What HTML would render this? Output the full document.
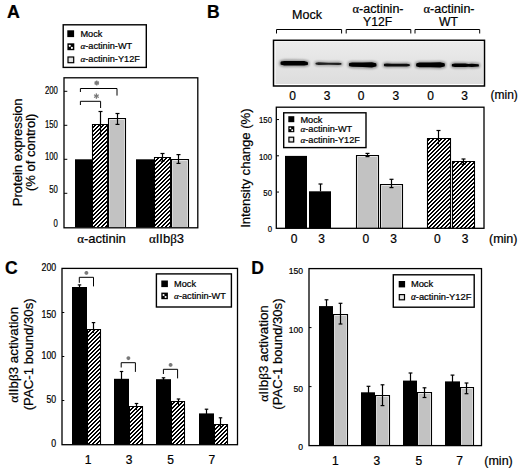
<!DOCTYPE html>
<html><head><meta charset="utf-8"><style>
html,body{margin:0;padding:0;background:#fff;width:520px;height:472px;overflow:hidden}
svg{display:block}
text{font-family:"Liberation Sans", sans-serif;fill:#000;stroke:#000;stroke-width:0.22px}
</style></head><body>
<svg width="520" height="472" viewBox="0 0 520 472">
<defs>
<pattern id="hatch" patternUnits="userSpaceOnUse" x="0" y="0" width="4" height="4"><rect x="0" y="0" width="4" height="4" fill="#fff"/><rect x="3" y="0" width="1" height="1" fill="#000"/><rect x="0" y="0" width="1" height="1" fill="#000"/><rect x="2" y="1" width="1" height="1" fill="#000"/><rect x="3" y="1" width="1" height="1" fill="#000"/><rect x="1" y="2" width="1" height="1" fill="#000"/><rect x="2" y="2" width="1" height="1" fill="#000"/><rect x="0" y="3" width="1" height="1" fill="#000"/><rect x="1" y="3" width="1" height="1" fill="#000"/></pattern>
<linearGradient id="blotg" x1="0" y1="0" x2="0" y2="1"><stop offset="0" stop-color="#ececec"/><stop offset="0.5" stop-color="#e4e4e4"/><stop offset="1" stop-color="#dddddd"/></linearGradient>
<filter id="blur" x="-20%" y="-100%" width="140%" height="300%"><feGaussianBlur stdDeviation="0.75"/></filter>
<filter id="blur2" x="-20%" y="-100%" width="140%" height="300%"><feGaussianBlur stdDeviation="1.3"/></filter>
</defs>
<rect width="520" height="472" fill="#fff"/>
<text x="7.10" y="18.10" font-size="17.8" text-anchor="start" font-weight="bold" >A</text>
<rect x="63.20" y="24.80" width="83.10" height="42.60" fill="#fff" stroke="#000" stroke-width="1.4"/>
<rect x="67.30" y="30.30" width="6.80" height="6.80" fill="#000"/>
<text x="80.40" y="37.00" font-size="9.2" text-anchor="start" font-weight="normal" >Mock</text>
<rect x="67.40" y="43.30" width="6.90" height="6.90" fill="#000"/>
<circle cx="69.75" cy="45.78" r="1.10" fill="#fff"/>
<circle cx="71.89" cy="47.92" r="1.10" fill="#fff"/>
<text x="80.40" y="49.40" font-size="9.2" text-anchor="start" font-weight="normal" ><tspan font-family="Liberation Serif" font-style="italic">α</tspan>-actinin-WT</text>
<rect x="68.00" y="57.00" width="5.70" height="5.70" fill="#dadada" stroke="#000" stroke-width="1.2"/>
<line x1="70.85" y1="57.90" x2="70.85" y2="61.80" stroke="#f4f4f4" stroke-width="0.6"/>
<line x1="68.90" y1="59.85" x2="72.80" y2="59.85" stroke="#f4f4f4" stroke-width="0.6"/>
<text x="80.40" y="62.40" font-size="9.2" text-anchor="start" font-weight="normal" ><tspan font-family="Liberation Serif" font-style="italic">α</tspan>-actinin-Y12F</text>
<line x1="64.00" y1="91.30" x2="67.30" y2="91.30" stroke="#000" stroke-width="1.0"/>
<text transform="translate(57.80,93.70) scale(0.75,1)" x="0" y="0" font-size="10.3" text-anchor="end">200</text>
<line x1="64.00" y1="125.30" x2="67.30" y2="125.30" stroke="#000" stroke-width="1.0"/>
<text transform="translate(57.80,127.50) scale(0.75,1)" x="0" y="0" font-size="10.3" text-anchor="end">150</text>
<line x1="64.00" y1="159.30" x2="67.30" y2="159.30" stroke="#000" stroke-width="1.0"/>
<text transform="translate(57.80,159.60) scale(0.75,1)" x="0" y="0" font-size="10.3" text-anchor="end">100</text>
<line x1="64.00" y1="193.30" x2="67.30" y2="193.30" stroke="#000" stroke-width="1.0"/>
<text transform="translate(57.80,192.90) scale(0.75,1)" x="0" y="0" font-size="10.3" text-anchor="end">50</text>
<text transform="translate(57.80,226.50) scale(0.75,1)" x="0" y="0" font-size="10.3" text-anchor="end">0</text>
<rect x="75.00" y="159.30" width="17.00" height="68.00" fill="#000"/>
<rect x="92.00" y="124.00" width="16.00" height="103.30" fill="url(#hatch)"/>
<path d="M92.5,227.3 V124.5 H107.5 V227.3" fill="none" stroke="#000" stroke-width="1.1"/>
<rect x="108.00" y="118.00" width="18.00" height="109.30" fill="#c2c2c2"/>
<path d="M109.5,227.3 V119.5 H124.5 V227.3" fill="none" stroke="#e4e4e4" stroke-width="1"/>
<path d="M108.5,227.3 V118.5 H125.5 V227.3" fill="none" stroke="#000" stroke-width="1.1"/>
<rect x="136.00" y="159.30" width="18.00" height="68.00" fill="#000"/>
<rect x="154.00" y="157.00" width="17.00" height="70.30" fill="url(#hatch)"/>
<path d="M154.5,227.3 V157.5 H170.5 V227.3" fill="none" stroke="#000" stroke-width="1.1"/>
<rect x="171.00" y="159.00" width="18.00" height="68.30" fill="#c2c2c2"/>
<path d="M172.5,227.3 V160.5 H187.5 V227.3" fill="none" stroke="#e4e4e4" stroke-width="1"/>
<path d="M171.5,227.3 V159.5 H188.5 V227.3" fill="none" stroke="#000" stroke-width="1.1"/>
<line x1="100.50" y1="111.50" x2="100.50" y2="136.50" stroke="#000" stroke-width="1.2"/>
<line x1="98.50" y1="111.50" x2="102.50" y2="111.50" stroke="#000" stroke-width="1.2"/>
<line x1="117.50" y1="113.50" x2="117.50" y2="124.40" stroke="#000" stroke-width="1.2"/>
<line x1="115.50" y1="113.50" x2="119.50" y2="113.50" stroke="#000" stroke-width="1.2"/>
<line x1="115.50" y1="124.40" x2="119.50" y2="124.40" stroke="#000" stroke-width="1.2"/>
<line x1="162.50" y1="153.50" x2="162.50" y2="161.20" stroke="#000" stroke-width="1.2"/>
<line x1="160.50" y1="153.50" x2="164.50" y2="153.50" stroke="#000" stroke-width="1.2"/>
<line x1="160.50" y1="161.20" x2="164.50" y2="161.20" stroke="#000" stroke-width="1.2"/>
<line x1="178.50" y1="154.60" x2="178.50" y2="163.40" stroke="#000" stroke-width="1.2"/>
<line x1="176.50" y1="154.60" x2="180.50" y2="154.60" stroke="#000" stroke-width="1.2"/>
<line x1="176.50" y1="163.40" x2="180.50" y2="163.40" stroke="#000" stroke-width="1.2"/>
<polyline points="80.40,92.00 80.40,88.50 117.00,88.50 117.00,95.60" fill="none" stroke="#000" stroke-width="1.0"/>
<polyline points="80.40,105.00 80.40,101.30 100.60,101.30 100.60,108.00" fill="none" stroke="#000" stroke-width="1.0"/>
<line x1="96.70" y1="80.60" x2="96.70" y2="85.40" stroke="#7a7a7a" stroke-width="1.6"/>
<line x1="98.78" y1="81.80" x2="94.62" y2="84.20" stroke="#7a7a7a" stroke-width="1.6"/>
<line x1="98.78" y1="84.20" x2="94.62" y2="81.80" stroke="#7a7a7a" stroke-width="1.6"/>
<line x1="96.40" y1="93.40" x2="96.40" y2="98.80" stroke="#7a7a7a" stroke-width="1.3"/>
<line x1="98.74" y1="94.75" x2="94.06" y2="97.45" stroke="#7a7a7a" stroke-width="1.3"/>
<line x1="98.74" y1="97.45" x2="94.06" y2="94.75" stroke="#7a7a7a" stroke-width="1.3"/>
<text x="101.50" y="242.50" font-size="13" text-anchor="middle" font-weight="normal" ><tspan font-family="Liberation Serif">α</tspan>-actinin</text>
<text x="166.50" y="242.50" font-size="13" text-anchor="middle" font-weight="normal" ><tspan font-family="Liberation Serif">α</tspan>IIb<tspan font-family="Liberation Serif">β</tspan>3</text>
<text transform="translate(22.00,152.30) rotate(-90)" x="0" y="0" font-size="13" text-anchor="middle" >Protein expression</text>
<text transform="translate(35.30,152.30) rotate(-90)" x="0" y="0" font-size="13" text-anchor="middle" >(% of control)</text>
<rect x="64.00" y="77.80" width="133.80" height="150.00" fill="none" stroke="#000" stroke-width="1.3"/>
<text x="207.00" y="18.10" font-size="17.5" text-anchor="start" font-weight="bold" >B</text>
<text x="307.00" y="18.50" font-size="12.5" text-anchor="middle" font-weight="normal" >Mock</text>
<text x="378.00" y="12.70" font-size="12.5" text-anchor="middle" font-weight="normal" ><tspan font-family="Liberation Serif">α</tspan>-actinin-</text>
<text x="377.60" y="25.90" font-size="12.2" text-anchor="middle" font-weight="normal" >Y12F</text>
<text x="449.00" y="12.70" font-size="12.5" text-anchor="middle" font-weight="normal" ><tspan font-family="Liberation Serif">α</tspan>-actinin-</text>
<text x="448.40" y="25.90" font-size="12.2" text-anchor="middle" font-weight="normal" >WT</text>
<polyline points="276.50,33.50 276.50,29.50 341.60,29.50 341.60,33.50" fill="none" stroke="#000" stroke-width="1.0"/>
<polyline points="346.20,33.50 346.20,29.50 410.80,29.50 410.80,33.50" fill="none" stroke="#000" stroke-width="1.0"/>
<polyline points="415.00,33.50 415.00,29.50 479.70,29.50 479.70,33.50" fill="none" stroke="#000" stroke-width="1.0"/>
<rect x="273.50" y="40.30" width="211.00" height="45.70" fill="#fff" stroke="#000" stroke-width="1.5"/>
<rect x="275.50" y="42.00" width="207.50" height="42.00" fill="url(#blotg)"/>
<path d="M279.10,63.20 Q279.10,60.20 281.10,60.20 L284.26,59.50 L294.25,59.60 L304.24,59.70 L307.40,60.50 Q309.40,60.50 309.40,63.40 Q309.40,66.30 307.40,66.30 L304.24,66.90 L294.25,66.80 L284.26,66.90 L281.10,66.20 Q279.10,66.20 279.10,63.20 Z" fill="#000" opacity="0.35" filter="url(#blur2)"/>
<path d="M280.50,63.20 Q280.50,61.60 281.10,61.60 L284.26,60.90 L294.25,61.00 L304.24,61.10 L307.40,61.90 Q308.00,61.90 308.00,63.40 Q308.00,64.90 307.40,64.90 L304.24,65.50 L294.25,65.40 L284.26,65.50 L281.10,64.80 Q280.50,64.80 280.50,63.20 Z" fill="#000" opacity="1.00" filter="url(#blur)"/>
<path d="M314.10,63.60 Q314.10,61.30 316.10,61.30 L318.58,60.90 L328.50,61.40 L338.42,61.30 L340.90,61.70 Q342.90,61.70 342.90,63.90 Q342.90,66.10 340.90,66.10 L338.42,66.50 L328.50,66.20 L318.58,66.30 L316.10,65.90 Q314.10,65.90 314.10,63.60 Z" fill="#000" opacity="0.28" filter="url(#blur2)"/>
<path d="M315.50,63.60 Q315.50,62.70 316.10,62.70 L318.58,62.30 L328.50,62.80 L338.42,62.70 L340.90,63.10 Q341.50,63.10 341.50,63.90 Q341.50,64.70 340.90,64.70 L338.42,65.10 L328.50,64.80 L318.58,64.90 L316.10,64.50 Q315.50,64.50 315.50,63.60 Z" fill="#000" opacity="0.80" filter="url(#blur)"/>
<path d="M347.50,64.60 Q347.50,61.60 349.50,61.60 L352.14,61.00 L362.70,61.20 L371.94,60.90 L375.90,61.80 Q377.90,61.80 377.90,64.90 Q377.90,68.00 375.90,68.00 L371.94,68.90 L362.70,68.40 L352.14,68.20 L349.50,67.60 Q347.50,67.60 347.50,64.60 Z" fill="#000" opacity="0.35" filter="url(#blur2)"/>
<path d="M348.90,64.60 Q348.90,63.00 349.50,63.00 L352.14,62.40 L362.70,62.60 L371.94,62.30 L375.90,63.20 Q376.50,63.20 376.50,64.90 Q376.50,66.60 375.90,66.60 L371.94,67.50 L362.70,67.00 L352.14,66.80 L349.50,66.20 Q348.90,66.20 348.90,64.60 Z" fill="#000" opacity="1.00" filter="url(#blur)"/>
<path d="M382.50,65.00 Q382.50,62.40 384.50,62.40 L386.98,62.00 L391.94,62.40 L399.38,62.40 L406.82,62.30 L409.30,62.80 Q411.30,62.80 411.30,65.10 Q411.30,67.40 409.30,67.40 L406.82,67.90 L399.38,67.80 L391.94,67.80 L386.98,68.00 L384.50,67.60 Q382.50,67.60 382.50,65.00 Z" fill="#000" opacity="0.32" filter="url(#blur2)"/>
<path d="M383.90,65.00 Q383.90,63.80 384.50,63.80 L386.98,63.40 L391.94,63.80 L399.38,63.80 L406.82,63.70 L409.30,64.20 Q409.90,64.20 409.90,65.10 Q409.90,66.00 409.30,66.00 L406.82,66.50 L399.38,66.40 L391.94,66.40 L386.98,66.60 L384.50,66.20 Q383.90,66.20 383.90,65.00 Z" fill="#000" opacity="0.92" filter="url(#blur)"/>
<path d="M414.70,64.90 Q414.70,61.80 416.70,61.80 L419.46,61.20 L430.50,61.20 L440.16,60.90 L444.30,61.80 Q446.30,61.80 446.30,64.90 Q446.30,68.00 444.30,68.00 L440.16,68.90 L430.50,68.60 L419.46,68.60 L416.70,68.00 Q414.70,68.00 414.70,64.90 Z" fill="#000" opacity="0.35" filter="url(#blur2)"/>
<path d="M416.10,64.90 Q416.10,63.20 416.70,63.20 L419.46,62.60 L430.50,62.60 L440.16,62.30 L444.30,63.20 Q444.90,63.20 444.90,64.90 Q444.90,66.60 444.30,66.60 L440.16,67.50 L430.50,67.20 L419.46,67.20 L416.70,66.60 Q416.10,66.60 416.10,64.90 Z" fill="#000" opacity="1.00" filter="url(#blur)"/>
<path d="M450.40,65.30 Q450.40,62.60 452.40,62.60 L454.99,62.10 L465.35,62.20 L468.46,62.70 L471.82,62.30 L478.30,62.80 Q480.30,62.80 480.30,65.40 Q480.30,68.00 478.30,68.00 L471.82,68.50 L468.46,68.10 L465.35,68.40 L454.99,68.50 L452.40,68.00 Q450.40,68.00 450.40,65.30 Z" fill="#000" opacity="0.35" filter="url(#blur2)"/>
<path d="M451.80,65.30 Q451.80,64.00 452.40,64.00 L454.99,63.50 L465.35,63.60 L468.46,64.10 L471.82,63.70 L478.30,64.20 Q478.90,64.20 478.90,65.40 Q478.90,66.60 478.30,66.60 L471.82,67.10 L468.46,66.70 L465.35,67.00 L454.99,67.10 L452.40,66.60 Q451.80,66.60 451.80,65.30 Z" fill="#000" opacity="1.00" filter="url(#blur)"/>
<text x="292.70" y="99.80" font-size="12" text-anchor="middle" font-weight="normal" >0</text>
<text x="327.00" y="99.80" font-size="12" text-anchor="middle" font-weight="normal" >3</text>
<text x="361.20" y="99.80" font-size="12" text-anchor="middle" font-weight="normal" >0</text>
<text x="395.80" y="99.80" font-size="12" text-anchor="middle" font-weight="normal" >3</text>
<text x="430.60" y="99.80" font-size="12" text-anchor="middle" font-weight="normal" >0</text>
<text x="464.50" y="99.80" font-size="12" text-anchor="middle" font-weight="normal" >3</text>
<text x="490.50" y="99.00" font-size="12" text-anchor="start" font-weight="normal" >(min)</text>
<line x1="276.30" y1="119.55" x2="279.00" y2="119.55" stroke="#000" stroke-width="1.0"/>
<text transform="translate(272.00,123.20) scale(0.82,1)" x="0" y="0" font-size="9.5" text-anchor="end">150</text>
<line x1="276.30" y1="155.80" x2="279.00" y2="155.80" stroke="#000" stroke-width="1.0"/>
<text transform="translate(272.00,159.80) scale(0.82,1)" x="0" y="0" font-size="9.5" text-anchor="end">100</text>
<line x1="276.30" y1="192.05" x2="279.00" y2="192.05" stroke="#000" stroke-width="1.0"/>
<text transform="translate(272.00,195.80) scale(0.82,1)" x="0" y="0" font-size="9.5" text-anchor="end">50</text>
<text transform="translate(272.00,232.00) scale(0.82,1)" x="0" y="0" font-size="9.5" text-anchor="end">0</text>
<rect x="283.70" y="112.80" width="82.30" height="34.80" fill="#fff" stroke="#000" stroke-width="1.4"/>
<rect x="288.30" y="116.20" width="6.00" height="6.00" fill="#000"/>
<text x="300.40" y="122.70" font-size="9.2" text-anchor="start" font-weight="normal" >Mock</text>
<rect x="288.30" y="126.20" width="6.00" height="6.00" fill="#000"/>
<circle cx="290.34" cy="128.36" r="0.96" fill="#fff"/>
<circle cx="292.20" cy="130.22" r="0.96" fill="#fff"/>
<text x="300.40" y="132.20" font-size="9.2" text-anchor="start" font-weight="normal" ><tspan font-family="Liberation Serif" font-style="italic">α</tspan>-actinin-WT</text>
<rect x="288.90" y="137.20" width="4.80" height="4.80" fill="#dadada" stroke="#000" stroke-width="1.2"/>
<line x1="291.30" y1="138.10" x2="291.30" y2="141.10" stroke="#f4f4f4" stroke-width="0.6"/>
<line x1="289.80" y1="139.60" x2="292.80" y2="139.60" stroke="#f4f4f4" stroke-width="0.6"/>
<text x="300.40" y="142.60" font-size="9.2" text-anchor="start" font-weight="normal" ><tspan font-family="Liberation Serif" font-style="italic">α</tspan>-actinin-Y12F</text>
<rect x="285.00" y="155.90" width="22.00" height="72.40" fill="#000"/>
<rect x="309.00" y="191.30" width="22.00" height="37.00" fill="#000"/>
<line x1="320.50" y1="184.00" x2="320.50" y2="191.30" stroke="#000" stroke-width="1.2"/>
<line x1="318.50" y1="184.00" x2="322.50" y2="184.00" stroke="#000" stroke-width="1.2"/>
<rect x="356.00" y="155.00" width="23.00" height="73.30" fill="#c2c2c2"/>
<path d="M357.5,228.3 V156.5 H377.5 V228.3" fill="none" stroke="#e4e4e4" stroke-width="1"/>
<path d="M356.5,228.3 V155.5 H378.5 V228.3" fill="none" stroke="#000" stroke-width="1.1"/>
<rect x="380.00" y="184.00" width="23.00" height="44.30" fill="#c2c2c2"/>
<path d="M381.5,228.3 V185.5 H401.5 V228.3" fill="none" stroke="#e4e4e4" stroke-width="1"/>
<path d="M380.5,228.3 V184.5 H402.5 V228.3" fill="none" stroke="#000" stroke-width="1.1"/>
<line x1="367.50" y1="153.40" x2="367.50" y2="156.60" stroke="#000" stroke-width="1.2"/>
<line x1="365.50" y1="153.40" x2="369.50" y2="153.40" stroke="#000" stroke-width="1.2"/>
<line x1="365.50" y1="156.60" x2="369.50" y2="156.60" stroke="#000" stroke-width="1.2"/>
<line x1="391.50" y1="179.30" x2="391.50" y2="187.60" stroke="#000" stroke-width="1.2"/>
<line x1="389.50" y1="179.30" x2="393.50" y2="179.30" stroke="#000" stroke-width="1.2"/>
<line x1="389.50" y1="187.60" x2="393.50" y2="187.60" stroke="#000" stroke-width="1.2"/>
<rect x="427.00" y="138.00" width="24.00" height="90.30" fill="url(#hatch)"/>
<path d="M427.5,228.3 V138.5 H450.5 V228.3" fill="none" stroke="#000" stroke-width="1.1"/>
<rect x="452.00" y="161.00" width="23.00" height="67.30" fill="url(#hatch)"/>
<path d="M452.5,228.3 V161.5 H474.5 V228.3" fill="none" stroke="#000" stroke-width="1.1"/>
<line x1="438.50" y1="130.50" x2="438.50" y2="144.40" stroke="#000" stroke-width="1.2"/>
<line x1="436.50" y1="130.50" x2="440.50" y2="130.50" stroke="#000" stroke-width="1.2"/>
<line x1="463.50" y1="159.00" x2="463.50" y2="164.40" stroke="#000" stroke-width="1.2"/>
<line x1="461.50" y1="159.00" x2="465.50" y2="159.00" stroke="#000" stroke-width="1.2"/>
<line x1="461.50" y1="164.40" x2="465.50" y2="164.40" stroke="#000" stroke-width="1.2"/>
<text x="294.20" y="243.00" font-size="12" text-anchor="middle" font-weight="normal" >0</text>
<text x="321.50" y="243.00" font-size="12" text-anchor="middle" font-weight="normal" >3</text>
<text x="365.80" y="243.00" font-size="12" text-anchor="middle" font-weight="normal" >0</text>
<text x="393.50" y="243.00" font-size="12" text-anchor="middle" font-weight="normal" >3</text>
<text x="437.30" y="243.00" font-size="12" text-anchor="middle" font-weight="normal" >0</text>
<text x="465.00" y="243.00" font-size="12" text-anchor="middle" font-weight="normal" >3</text>
<text x="489.00" y="242.50" font-size="12.5" text-anchor="start" font-weight="normal" >(min)</text>
<text transform="translate(249.60,168.10) rotate(-90)" x="0" y="0" font-size="13.2" text-anchor="middle"  textLength="119.5" lengthAdjust="spacingAndGlyphs">Intensity change (%)</text>
<rect x="276.30" y="107.20" width="207.70" height="121.10" fill="none" stroke="#000" stroke-width="1.3"/>
<text x="5.00" y="274.30" font-size="17.5" text-anchor="start" font-weight="bold" >C</text>
<text transform="translate(56.20,271.00) scale(0.86,1)" x="0" y="0" font-size="10.2" text-anchor="end">200</text>
<line x1="62.00" y1="312.50" x2="64.30" y2="312.50" stroke="#000" stroke-width="1.0"/>
<text transform="translate(56.20,317.50) scale(0.86,1)" x="0" y="0" font-size="10.2" text-anchor="end">150</text>
<line x1="62.00" y1="356.50" x2="64.30" y2="356.50" stroke="#000" stroke-width="1.0"/>
<text transform="translate(56.20,359.20) scale(0.86,1)" x="0" y="0" font-size="10.2" text-anchor="end">100</text>
<line x1="62.00" y1="400.50" x2="64.30" y2="400.50" stroke="#000" stroke-width="1.0"/>
<text transform="translate(56.20,402.70) scale(0.86,1)" x="0" y="0" font-size="10.2" text-anchor="end">50</text>
<text transform="translate(56.20,446.80) scale(0.86,1)" x="0" y="0" font-size="10.2" text-anchor="end">0</text>
<rect x="156.40" y="273.90" width="75.00" height="33.10" fill="#fff" stroke="#000" stroke-width="1.4"/>
<rect x="161.30" y="280.50" width="6.60" height="6.60" fill="#000"/>
<text x="174.10" y="287.30" font-size="9.2" text-anchor="start" font-weight="normal" >Mock</text>
<rect x="161.30" y="292.60" width="6.60" height="6.60" fill="#000"/>
<circle cx="163.54" cy="294.98" r="1.06" fill="#fff"/>
<circle cx="165.59" cy="297.02" r="1.06" fill="#fff"/>
<text x="174.10" y="299.30" font-size="9.2" text-anchor="start" font-weight="normal" ><tspan font-family="Liberation Serif" font-style="italic">α</tspan>-actinin-WT</text>
<rect x="72.00" y="287.00" width="15.00" height="157.50" fill="#000"/>
<line x1="79.50" y1="284.90" x2="79.50" y2="291.00" stroke="#000" stroke-width="1.2"/>
<line x1="77.75" y1="284.90" x2="81.25" y2="284.90" stroke="#000" stroke-width="1.2"/>
<rect x="87.00" y="329.00" width="14.00" height="115.50" fill="url(#hatch)"/>
<path d="M87.5,444.5 V329.5 H100.5 V444.5" fill="none" stroke="#000" stroke-width="1.1"/>
<line x1="93.50" y1="322.60" x2="93.50" y2="332.90" stroke="#000" stroke-width="1.2"/>
<line x1="91.75" y1="322.60" x2="95.25" y2="322.60" stroke="#000" stroke-width="1.2"/>
<rect x="114.00" y="378.80" width="15.00" height="65.70" fill="#000"/>
<line x1="121.50" y1="371.50" x2="121.50" y2="382.80" stroke="#000" stroke-width="1.2"/>
<line x1="119.75" y1="371.50" x2="123.25" y2="371.50" stroke="#000" stroke-width="1.2"/>
<rect x="129.00" y="406.00" width="14.00" height="38.50" fill="url(#hatch)"/>
<path d="M129.5,444.5 V406.5 H142.5 V444.5" fill="none" stroke="#000" stroke-width="1.1"/>
<line x1="136.50" y1="403.50" x2="136.50" y2="410.20" stroke="#000" stroke-width="1.2"/>
<line x1="134.75" y1="403.50" x2="138.25" y2="403.50" stroke="#000" stroke-width="1.2"/>
<rect x="156.00" y="379.20" width="15.00" height="65.30" fill="#000"/>
<line x1="163.50" y1="377.80" x2="163.50" y2="383.20" stroke="#000" stroke-width="1.2"/>
<line x1="161.75" y1="377.80" x2="165.25" y2="377.80" stroke="#000" stroke-width="1.2"/>
<rect x="171.00" y="401.00" width="14.00" height="43.50" fill="url(#hatch)"/>
<path d="M171.5,444.5 V401.5 H184.5 V444.5" fill="none" stroke="#000" stroke-width="1.1"/>
<line x1="178.50" y1="399.00" x2="178.50" y2="405.00" stroke="#000" stroke-width="1.2"/>
<line x1="176.75" y1="399.00" x2="180.25" y2="399.00" stroke="#000" stroke-width="1.2"/>
<rect x="199.00" y="413.40" width="15.00" height="31.10" fill="#000"/>
<line x1="206.50" y1="409.20" x2="206.50" y2="417.40" stroke="#000" stroke-width="1.2"/>
<line x1="204.75" y1="409.20" x2="208.25" y2="409.20" stroke="#000" stroke-width="1.2"/>
<rect x="214.00" y="424.00" width="14.00" height="20.50" fill="url(#hatch)"/>
<path d="M214.5,444.5 V424.5 H227.5 V444.5" fill="none" stroke="#000" stroke-width="1.1"/>
<line x1="220.50" y1="417.80" x2="220.50" y2="428.10" stroke="#000" stroke-width="1.2"/>
<line x1="218.75" y1="417.80" x2="222.25" y2="417.80" stroke="#000" stroke-width="1.2"/>
<polyline points="79.30,282.80 79.30,277.30 93.50,277.30 93.50,286.40" fill="none" stroke="#000" stroke-width="1.0"/>
<line x1="86.40" y1="271.00" x2="86.40" y2="274.80" stroke="#7a7a7a" stroke-width="1.6"/>
<line x1="88.05" y1="271.95" x2="84.75" y2="273.85" stroke="#7a7a7a" stroke-width="1.6"/>
<line x1="88.05" y1="273.85" x2="84.75" y2="271.95" stroke="#7a7a7a" stroke-width="1.6"/>
<polyline points="121.20,367.50 121.20,362.70 135.40,362.70 135.40,371.90" fill="none" stroke="#000" stroke-width="1.0"/>
<line x1="128.40" y1="356.30" x2="128.40" y2="360.10" stroke="#7a7a7a" stroke-width="1.6"/>
<line x1="130.05" y1="357.25" x2="126.75" y2="359.15" stroke="#7a7a7a" stroke-width="1.6"/>
<line x1="130.05" y1="359.15" x2="126.75" y2="357.25" stroke="#7a7a7a" stroke-width="1.6"/>
<polyline points="163.40,374.00 163.40,369.30 177.60,369.30 177.60,378.40" fill="none" stroke="#000" stroke-width="1.0"/>
<line x1="170.60" y1="363.00" x2="170.60" y2="366.80" stroke="#7a7a7a" stroke-width="1.6"/>
<line x1="172.25" y1="363.95" x2="168.95" y2="365.85" stroke="#7a7a7a" stroke-width="1.6"/>
<line x1="172.25" y1="365.85" x2="168.95" y2="363.95" stroke="#7a7a7a" stroke-width="1.6"/>
<text x="88.20" y="463.70" font-size="12" text-anchor="middle" font-weight="normal" >1</text>
<text x="129.20" y="463.70" font-size="12" text-anchor="middle" font-weight="normal" >3</text>
<text x="170.70" y="463.70" font-size="12" text-anchor="middle" font-weight="normal" >5</text>
<text x="211.90" y="463.70" font-size="12" text-anchor="middle" font-weight="normal" >7</text>
<text transform="translate(18.40,354.85) rotate(-90)" x="0" y="0" font-size="13" text-anchor="middle"  textLength="96" lengthAdjust="spacingAndGlyphs"><tspan font-family="Liberation Serif">α</tspan>IIb<tspan font-family="Liberation Serif">β</tspan>3 activation</text>
<text transform="translate(32.50,354.30) rotate(-90)" x="0" y="0" font-size="13" text-anchor="middle"  textLength="112" lengthAdjust="spacingAndGlyphs">(PAC-1 bound/30s)</text>
<rect x="62.00" y="268.40" width="175.50" height="176.30" fill="none" stroke="#000" stroke-width="1.3"/>
<text x="251.20" y="274.30" font-size="17.5" text-anchor="start" font-weight="bold" >D</text>
<text transform="translate(303.00,274.20) scale(0.87,1)" x="0" y="0" font-size="9.9" text-anchor="end">150</text>
<line x1="309.00" y1="327.60" x2="311.50" y2="327.60" stroke="#000" stroke-width="1.0"/>
<text transform="translate(303.00,333.20) scale(0.87,1)" x="0" y="0" font-size="9.9" text-anchor="end">100</text>
<line x1="309.00" y1="386.60" x2="311.50" y2="386.60" stroke="#000" stroke-width="1.0"/>
<text transform="translate(303.00,391.50) scale(0.87,1)" x="0" y="0" font-size="9.9" text-anchor="end">50</text>
<text transform="translate(303.00,450.00) scale(0.87,1)" x="0" y="0" font-size="9.9" text-anchor="end">0</text>
<rect x="393.30" y="274.80" width="80.90" height="32.40" fill="#fff" stroke="#000" stroke-width="1.4"/>
<rect x="398.70" y="281.00" width="6.40" height="6.40" fill="#000"/>
<text x="410.90" y="287.00" font-size="9.35" text-anchor="start" font-weight="normal" >Mock</text>
<rect x="399.30" y="294.60" width="5.20" height="5.20" fill="#dadada" stroke="#000" stroke-width="1.2"/>
<line x1="401.90" y1="295.50" x2="401.90" y2="298.90" stroke="#f4f4f4" stroke-width="0.6"/>
<line x1="400.20" y1="297.20" x2="403.60" y2="297.20" stroke="#f4f4f4" stroke-width="0.6"/>
<text x="410.90" y="299.60" font-size="9.35" text-anchor="start" font-weight="normal" ><tspan font-family="Liberation Serif" font-style="italic">α</tspan>-actinin-Y12F</text>
<rect x="319.00" y="306.10" width="14.00" height="139.50" fill="#000"/>
<line x1="326.50" y1="299.80" x2="326.50" y2="310.10" stroke="#000" stroke-width="1.2"/>
<line x1="324.60" y1="299.80" x2="328.40" y2="299.80" stroke="#000" stroke-width="1.2"/>
<rect x="333.00" y="314.00" width="15.00" height="131.60" fill="#c2c2c2"/>
<path d="M334.5,445.6 V315.5 H346.5 V445.6" fill="none" stroke="#e4e4e4" stroke-width="1"/>
<path d="M333.5,445.6 V314.5 H347.5 V445.6" fill="none" stroke="#000" stroke-width="1.1"/>
<line x1="340.50" y1="303.30" x2="340.50" y2="324.00" stroke="#000" stroke-width="1.2"/>
<line x1="338.60" y1="303.30" x2="342.40" y2="303.30" stroke="#000" stroke-width="1.2"/>
<line x1="338.60" y1="324.00" x2="342.40" y2="324.00" stroke="#000" stroke-width="1.2"/>
<rect x="361.00" y="392.30" width="14.00" height="53.30" fill="#000"/>
<line x1="368.50" y1="386.30" x2="368.50" y2="396.30" stroke="#000" stroke-width="1.2"/>
<line x1="366.60" y1="386.30" x2="370.40" y2="386.30" stroke="#000" stroke-width="1.2"/>
<rect x="375.00" y="395.00" width="15.00" height="50.60" fill="#c2c2c2"/>
<path d="M376.5,445.6 V396.5 H388.5 V445.6" fill="none" stroke="#e4e4e4" stroke-width="1"/>
<path d="M375.5,445.6 V395.5 H389.5 V445.6" fill="none" stroke="#000" stroke-width="1.1"/>
<line x1="382.50" y1="384.80" x2="382.50" y2="405.60" stroke="#000" stroke-width="1.2"/>
<line x1="380.60" y1="384.80" x2="384.40" y2="384.80" stroke="#000" stroke-width="1.2"/>
<line x1="380.60" y1="405.60" x2="384.40" y2="405.60" stroke="#000" stroke-width="1.2"/>
<rect x="403.00" y="380.60" width="14.00" height="65.00" fill="#000"/>
<line x1="410.50" y1="373.00" x2="410.50" y2="384.60" stroke="#000" stroke-width="1.2"/>
<line x1="408.60" y1="373.00" x2="412.40" y2="373.00" stroke="#000" stroke-width="1.2"/>
<rect x="417.00" y="392.00" width="15.00" height="53.60" fill="#c2c2c2"/>
<path d="M418.5,445.6 V393.5 H430.5 V445.6" fill="none" stroke="#e4e4e4" stroke-width="1"/>
<path d="M417.5,445.6 V392.5 H431.5 V445.6" fill="none" stroke="#000" stroke-width="1.1"/>
<line x1="424.50" y1="387.80" x2="424.50" y2="397.50" stroke="#000" stroke-width="1.2"/>
<line x1="422.60" y1="387.80" x2="426.40" y2="387.80" stroke="#000" stroke-width="1.2"/>
<line x1="422.60" y1="397.50" x2="426.40" y2="397.50" stroke="#000" stroke-width="1.2"/>
<rect x="445.00" y="381.40" width="15.00" height="64.20" fill="#000"/>
<line x1="452.50" y1="375.10" x2="452.50" y2="385.40" stroke="#000" stroke-width="1.2"/>
<line x1="450.60" y1="375.10" x2="454.40" y2="375.10" stroke="#000" stroke-width="1.2"/>
<rect x="460.00" y="387.00" width="14.00" height="58.60" fill="#c2c2c2"/>
<path d="M461.5,445.6 V388.5 H472.5 V445.6" fill="none" stroke="#e4e4e4" stroke-width="1"/>
<path d="M460.5,445.6 V387.5 H473.5 V445.6" fill="none" stroke="#000" stroke-width="1.1"/>
<line x1="466.50" y1="383.00" x2="466.50" y2="393.70" stroke="#000" stroke-width="1.2"/>
<line x1="464.60" y1="383.00" x2="468.40" y2="383.00" stroke="#000" stroke-width="1.2"/>
<line x1="464.60" y1="393.70" x2="468.40" y2="393.70" stroke="#000" stroke-width="1.2"/>
<text x="335.40" y="464.60" font-size="12" text-anchor="middle" font-weight="normal" >1</text>
<text x="376.90" y="464.60" font-size="12" text-anchor="middle" font-weight="normal" >3</text>
<text x="418.80" y="464.60" font-size="12" text-anchor="middle" font-weight="normal" >5</text>
<text x="459.70" y="464.60" font-size="12" text-anchor="middle" font-weight="normal" >7</text>
<text x="484.30" y="464.60" font-size="12.5" text-anchor="start" font-weight="normal" >(min)</text>
<text transform="translate(268.00,353.45) rotate(-90)" x="0" y="0" font-size="13" text-anchor="middle"  textLength="96.5" lengthAdjust="spacingAndGlyphs"><tspan font-family="Liberation Serif">α</tspan>IIb<tspan font-family="Liberation Serif">β</tspan>3 activation</text>
<text transform="translate(282.00,354.10) rotate(-90)" x="0" y="0" font-size="13" text-anchor="middle"  textLength="111.2" lengthAdjust="spacingAndGlyphs">(PAC-1 bound/30s)</text>
<rect x="309.00" y="268.60" width="172.50" height="177.00" fill="none" stroke="#000" stroke-width="1.3"/>
</svg>
</body></html>
